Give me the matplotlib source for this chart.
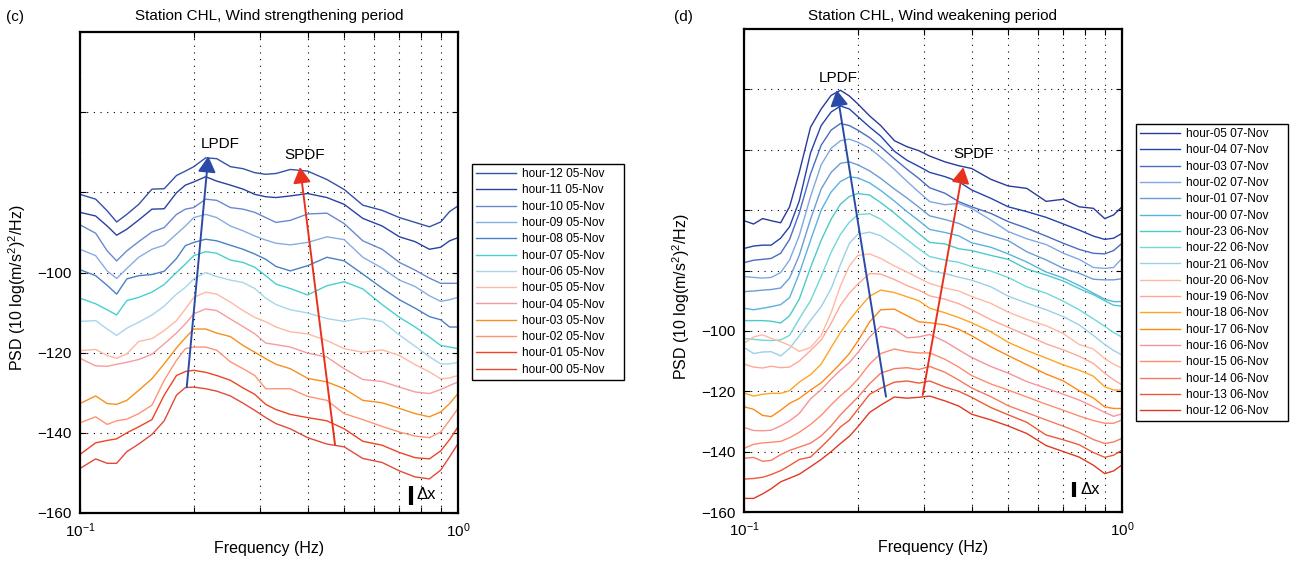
import matplotlib
matplotlib.use('Agg')
import matplotlib.pyplot as plt
from matplotlib.ticker import NullFormatter, FixedLocator

plt.rcParams['font.family'] = ['Liberation Sans', 'DejaVu Sans']
plt.rcParams['mathtext.fontset'] = 'custom'
plt.rcParams['mathtext.rm'] = 'Liberation Sans'
plt.rcParams['mathtext.it'] = 'Liberation Sans:italic'
plt.rcParams['mathtext.bf'] = 'Liberation Sans:bold'

# ---- panel (c): wind strengthening, PSD in dB at these frequencies (Hz)
freq_c = [0.100, 0.110, 0.118, 0.125, 0.133, 0.143, 0.155, 0.167, 0.180, 0.190,
          0.200, 0.215, 0.230, 0.250, 0.270, 0.290, 0.310, 0.330, 0.360, 0.400,
          0.450, 0.500, 0.560, 0.630, 0.700, 0.770, 0.840, 0.900, 0.950, 1.000]

psd_c12 = [-80.5, -81.7, -84.6, -87.4, -85.5, -83.0, -79.2, -79.1, -75.8, -74.7,
           -73.6, -71.4, -71.6, -73.6, -74.1, -75.1, -75.5, -75.3, -74.3, -74.7,
           -76.8, -79.3, -83.2, -84.5, -86.3, -87.5, -88.6, -87.4, -84.8, -83.4]
psd_c11 = [-85.0, -85.9, -88.4, -90.7, -89.2, -86.9, -84.2, -84.1, -80.1, -78.2,
           -77.4, -76.1, -77.2, -78.2, -79.2, -80.5, -81.1, -81.3, -80.9, -80.3,
           -81.3, -83.0, -86.5, -88.4, -91.1, -92.3, -94.2, -93.7, -92.1, -91.3]
psd_c10 = [-88.1, -90.2, -94.6, -97.1, -94.6, -92.3, -89.9, -88.8, -85.5, -84.2,
           -83.8, -81.7, -82.0, -83.8, -84.2, -85.0, -86.3, -87.5, -87.0, -85.4,
           -85.2, -87.8, -92.1, -94.2, -97.5, -99.4, -101.4, -102.7, -102.7, -102.7]
psd_c09 = [-94.2, -95.8, -99.6, -101.5, -99.0, -96.2, -94.2, -93.2, -90.4, -88.4,
           -86.3, -85.5, -86.3, -88.4, -89.6, -90.9, -91.9, -92.7, -93.1, -92.5,
           -91.1, -91.8, -96.2, -98.9, -101.9, -103.5, -105.8, -107.2, -106.8, -106.2]
psd_c08 = [-99.3, -100.8, -103.2, -105.4, -101.6, -100.8, -100.5, -99.7, -96.5, -93.3,
           -92.5, -91.7, -92.1, -93.2, -94.2, -95.4, -96.7, -98.5, -99.6, -98.3,
           -96.2, -97.1, -100.4, -103.9, -106.8, -108.9, -111.0, -111.8, -113.6, -113.6]
psd_c07 = [-106.4, -107.8, -109.3, -110.6, -107.0, -106.2, -104.9, -103.0, -100.0, -97.9,
           -95.8, -94.8, -95.2, -96.9, -97.5, -98.7, -100.8, -102.9, -104.0, -105.6,
           -103.3, -102.3, -104.1, -108.0, -111.2, -113.6, -116.1, -118.2, -118.6, -119.0]
psd_c06 = [-112.2, -112.0, -114.1, -115.7, -113.9, -112.4, -110.6, -108.4, -105.4, -103.7,
           -101.6, -100.0, -101.0, -101.9, -102.5, -104.0, -106.4, -108.0, -109.3, -110.1,
           -111.5, -112.2, -111.4, -112.2, -115.6, -118.4, -121.0, -122.8, -122.8, -122.4]
psd_c05 = [-119.5, -119.2, -120.7, -121.4, -120.3, -117.2, -116.5, -114.5, -112.0, -109.1,
           -106.2, -104.9, -105.4, -107.4, -109.5, -111.2, -112.3, -113.6, -114.8, -115.3,
           -117.0, -119.0, -119.9, -119.3, -120.7, -123.0, -124.8, -126.5, -126.3, -125.7]
psd_c04 = [-121.4, -123.3, -123.4, -122.9, -122.4, -121.7, -120.4, -117.8, -115.1, -112.8,
           -110.3, -109.1, -109.5, -111.6, -113.5, -115.3, -117.6, -118.0, -118.6, -120.1,
           -121.1, -124.0, -126.7, -127.2, -128.6, -129.8, -130.2, -129.2, -128.2, -127.3]
psd_c03 = [-132.7, -130.8, -132.7, -132.9, -131.9, -129.4, -126.5, -122.8, -118.8, -116.3,
           -114.1, -114.1, -115.1, -116.0, -118.2, -119.9, -121.5, -122.9, -124.0, -126.4,
           -127.3, -129.0, -131.9, -132.5, -133.9, -135.2, -136.0, -134.8, -132.7, -130.2]
psd_c02 = [-137.5, -136.0, -137.9, -137.0, -136.6, -135.2, -133.1, -126.9, -121.9, -119.0,
           -118.6, -118.6, -119.4, -122.3, -124.0, -125.7, -129.0, -129.0, -129.0, -130.9,
           -131.9, -135.2, -136.7, -138.4, -139.8, -140.8, -141.2, -139.8, -136.9, -133.9]
psd_c01 = [-145.4, -142.5, -141.9, -141.5, -140.0, -138.5, -136.7, -130.6, -125.7, -124.7,
           -124.4, -124.9, -125.7, -126.9, -128.8, -130.4, -132.9, -134.2, -135.4, -136.2,
           -137.0, -139.0, -142.1, -143.1, -144.9, -146.2, -146.5, -144.5, -141.7, -138.5]
psd_c00 = [-148.9, -146.5, -147.6, -147.6, -144.7, -142.8, -140.4, -137.0, -130.6, -128.7,
           -128.6, -129.0, -129.6, -130.8, -132.6, -134.4, -136.2, -137.7, -139.0, -141.2,
           -142.8, -143.5, -146.4, -147.4, -149.5, -151.0, -151.5, -149.3, -146.0, -142.7]

labels_c = ['hour-12 05-Nov', 'hour-11 05-Nov', 'hour-10 05-Nov', 'hour-09 05-Nov',
            'hour-08 05-Nov', 'hour-07 05-Nov', 'hour-06 05-Nov', 'hour-05 05-Nov',
            'hour-04 05-Nov', 'hour-03 05-Nov', 'hour-02 05-Nov', 'hour-01 05-Nov',
            'hour-00 05-Nov']

# peak-frequency arrows (tail, head) and label spots, as (Hz, dB)
lpdf_c = [(0.1916, -128.6), (0.2185, -71.0)]
spdf_c = [(0.4727, -142.9), (0.382, -73.7)]
lpdf_text_c = (0.2356, -68.0)
spdf_text_c = (0.3937, -70.7)

# ---- panel (d): wind weakening
freq_d = [0.100, 0.106, 0.112, 0.118, 0.125, 0.132, 0.140, 0.150, 0.160, 0.170,
          0.180, 0.190, 0.200, 0.215, 0.230, 0.250, 0.270, 0.290, 0.310, 0.340,
          0.370, 0.400, 0.450, 0.500, 0.560, 0.630, 0.700, 0.770, 0.840, 0.900,
          0.950, 1.000]

psd_d05 = [-63.5, -64.6, -62.8, -63.5, -64.2, -58.9, -47.5, -32.5, -26.5, -22.0,
           -20.3, -22.2, -24.8, -28.8, -32.0, -37.0, -39.0, -40.3, -42.1, -44.0,
           -45.3, -46.2, -49.8, -52.0, -52.8, -57.1, -56.4, -58.9, -59.4, -62.8,
           -61.6, -58.9]
psd_d04 = [-72.7, -71.9, -71.6, -71.6, -69.3, -65.5, -57.0, -41.0, -32.0, -27.5,
           -25.5, -26.5, -29.0, -32.5, -35.5, -40.5, -43.5, -45.5, -47.5, -48.9,
           -50.6, -53.3, -56.1, -58.9, -60.5, -62.4, -64.6, -66.6, -68.6, -69.7,
           -69.3, -67.7]
psd_d03 = [-77.4, -76.6, -76.3, -76.0, -74.3, -69.7, -61.0, -48.0, -38.5, -33.5,
           -31.3, -32.0, -33.5, -36.0, -39.0, -43.0, -46.5, -49.5, -52.6, -54.4,
           -57.2, -58.9, -61.1, -63.8, -66.0, -68.6, -71.0, -73.0, -74.3, -74.5,
           -73.4, -71.0]
psd_d02 = [-82.0, -82.3, -82.5, -82.3, -80.7, -76.5, -68.5, -55.5, -45.0, -39.5,
           -37.0, -36.5, -37.5, -39.5, -42.5, -46.5, -50.5, -54.0, -57.2, -58.2,
           -57.8, -59.4, -63.3, -67.1, -69.5, -71.4, -74.3, -76.3, -79.0, -79.3,
           -79.0, -76.0]
psd_d01 = [-87.0, -86.8, -86.5, -86.3, -85.8, -82.5, -75.0, -63.0, -53.0, -47.5,
           -44.5, -44.0, -45.0, -47.0, -49.5, -53.0, -56.0, -59.0, -61.9, -63.1,
           -64.4, -66.4, -68.4, -70.1, -73.8, -76.5, -79.3, -80.9, -82.9, -83.1,
           -83.1, -82.7]
psd_d00 = [-92.5, -93.0, -92.5, -92.0, -91.3, -89.0, -81.0, -70.0, -60.0, -54.0,
           -50.5, -49.0, -49.3, -51.0, -53.5, -57.0, -60.5, -63.5, -66.4, -67.4,
           -68.5, -70.8, -72.3, -74.5, -77.2, -80.5, -82.5, -85.0, -87.5, -89.5,
           -90.3, -90.3]
psd_d23 = [-96.6, -96.6, -96.6, -96.8, -97.4, -95.0, -89.5, -79.0, -70.0, -63.0,
           -58.0, -55.5, -54.5, -55.0, -57.5, -61.0, -64.5, -67.8, -70.7, -71.2,
           -72.8, -73.4, -75.0, -76.3, -79.5, -81.5, -83.5, -86.0, -88.0, -90.0,
           -91.5, -91.8]
psd_d22 = [-102.5, -102.8, -103.1, -103.2, -103.0, -101.5, -96.0, -90.0, -82.0, -74.0,
           -68.0, -64.0, -61.5, -61.2, -63.0, -66.5, -69.8, -72.8, -75.4, -76.5,
           -77.3, -78.7, -80.2, -82.3, -85.4, -87.5, -90.2, -93.0, -96.0, -98.5,
           -100.5, -102.1]
psd_d21 = [-105.5, -107.5, -107.0, -106.9, -108.3, -105.8, -101.7, -96.5, -92.0, -86.0,
           -78.0, -71.0, -68.0, -67.3, -68.5, -71.5, -74.5, -77.5, -80.1, -81.0,
           -82.2, -83.2, -85.4, -88.5, -90.8, -93.0, -95.3, -98.0, -101.5, -104.5,
           -106.5, -108.0]
psd_d20 = [-104.1, -102.0, -101.3, -102.5, -103.6, -104.8, -106.8, -105.5, -101.5, -94.0,
           -85.0, -78.5, -75.0, -74.5, -76.0, -78.5, -80.5, -82.5, -84.3, -85.8,
           -86.8, -88.6, -90.9, -93.8, -96.2, -98.3, -100.9, -104.5, -106.0, -109.2,
           -111.0, -112.4]
psd_d19 = [-111.0, -112.0, -112.3, -111.7, -112.2, -112.0, -110.0, -106.5, -103.0, -97.5,
           -91.5, -87.5, -84.5, -81.0, -81.2, -83.0, -85.0, -86.5, -88.4, -89.5,
           -91.0, -93.0, -96.3, -98.8, -101.5, -104.3, -106.3, -108.4, -110.8, -114.0,
           -116.2, -117.9]
psd_d18 = [-120.6, -121.6, -121.0, -120.7, -120.7, -119.8, -117.0, -114.5, -111.0, -105.5,
           -100.5, -96.5, -93.0, -88.5, -86.5, -87.3, -88.7, -90.0, -92.5, -94.0,
           -95.6, -97.3, -100.3, -103.8, -106.5, -109.0, -111.3, -113.0, -115.0, -118.5,
           -119.6, -119.6]
psd_d17 = [-125.1, -126.0, -128.0, -128.4, -126.3, -124.0, -122.4, -119.6, -117.2, -114.0,
           -110.8, -107.5, -103.4, -97.0, -93.0, -92.8, -95.0, -97.0, -97.3, -98.0,
           -99.5, -101.6, -105.3, -108.2, -111.2, -114.3, -116.6, -119.8, -122.2, -125.2,
           -125.7, -125.7]
psd_d16 = [-132.0, -133.0, -133.1, -132.9, -131.5, -129.8, -127.4, -122.5, -119.5, -116.0,
           -113.0, -110.5, -107.2, -102.0, -98.5, -99.5, -102.3, -102.0, -101.2, -103.5,
           -106.3, -108.8, -111.8, -114.0, -116.8, -119.0, -121.0, -122.9, -125.1, -127.0,
           -128.3, -127.5]
psd_d15 = [-138.9, -137.6, -137.1, -136.9, -136.6, -135.4, -133.6, -131.0, -128.0, -124.5,
           -121.5, -119.0, -116.0, -111.0, -107.5, -106.0, -106.9, -107.3, -107.3, -109.4,
           -112.0, -114.8, -117.6, -119.6, -121.9, -124.3, -126.3, -128.2, -129.7, -130.6,
           -130.6, -129.5]
psd_d14 = [-142.2, -141.9, -143.2, -142.9, -141.0, -139.6, -138.5, -137.2, -134.8, -131.5,
           -127.8, -124.8, -122.0, -117.5, -114.0, -112.5, -112.2, -112.8, -111.8, -113.7,
           -116.3, -118.9, -121.8, -124.8, -127.1, -129.5, -131.6, -133.6, -136.0, -137.3,
           -136.8, -135.6]
psd_d13 = [-149.1, -148.9, -148.5, -147.6, -146.3, -144.6, -142.6, -141.8, -138.5, -135.2,
           -131.8, -129.6, -126.0, -121.0, -119.0, -117.0, -116.6, -117.3, -116.6, -118.6,
           -120.0, -122.0, -125.4, -127.8, -130.3, -134.5, -136.1, -137.7, -140.3, -141.9,
           -141.2, -139.5]
psd_d12 = [-155.5, -155.5, -154.0, -152.3, -150.0, -148.8, -147.5, -145.0, -142.6, -140.0,
           -137.3, -134.9, -131.8, -127.0, -124.6, -121.9, -122.3, -122.0, -121.6, -123.2,
           -124.9, -127.6, -129.5, -131.5, -134.0, -138.0, -140.0, -141.8, -144.5, -147.3,
           -146.4, -144.4]

labels_d = ['hour-05 07-Nov', 'hour-04 07-Nov', 'hour-03 07-Nov', 'hour-02 07-Nov',
            'hour-01 07-Nov', 'hour-00 07-Nov', 'hour-23 06-Nov', 'hour-22 06-Nov',
            'hour-21 06-Nov', 'hour-20 06-Nov', 'hour-19 06-Nov', 'hour-18 06-Nov',
            'hour-17 06-Nov', 'hour-16 06-Nov', 'hour-15 06-Nov', 'hour-14 06-Nov',
            'hour-13 06-Nov', 'hour-12 06-Nov']

lpdf_d = [(0.2375, -121.8), (0.1759, -20.2)]
spdf_d = [(0.297, -121.2), (0.3804, -45.8)]
lpdf_text_d = (0.1778, -16.3)
spdf_text_d = (0.4058, -41.4)

# line colours, top curve first
colors_c = ['#3550a8', '#2a41a0', '#6a88d0', '#86aee2', '#4a80c8', '#48d0d0', '#a6d6ec',
            '#ffb8a2', '#f79c9c', '#f7901e', '#ff9474', '#ee4422', '#e24a3a']
colors_d = ['#2a3a9c', '#2444aa', '#4a6cc2', '#80a8e2', '#6c9cd4', '#5ab2e2', '#4ccac8',
            '#70d8d8', '#9ad0e8', '#ffb9a2', '#ffa898', '#ffa424', '#ff8a14', '#f79499',
            '#ff8c70', '#f77a60', '#ee5a38', '#e03a22']

curves_c = [psd_c12, psd_c11, psd_c10, psd_c09, psd_c08, psd_c07, psd_c06,
            psd_c05, psd_c04, psd_c03, psd_c02, psd_c01, psd_c00]
curves_d = [psd_d05, psd_d04, psd_d03, psd_d02, psd_d01, psd_d00, psd_d23, psd_d22,
            psd_d21, psd_d20, psd_d19, psd_d18, psd_d17, psd_d16, psd_d15, psd_d14,
            psd_d13, psd_d12]

W, H = 1295, 565
fig = plt.figure(figsize=(W / 100, H / 100), dpi=100)


def draw_panel(rect, freq, curves, labels, colors, ylim, lpdf, spdf, lpdf_txt, spdf_txt,
               dx_bar, dx_text, title, letter, legend_box, title_pad, ylab_y):
    ax = fig.add_axes(rect)
    for vals, lab, col in zip(curves, labels, colors):
        ax.plot(freq, vals, color=col, lw=1.0, label=lab)
    ax.set_xscale('log')
    ax.set_xlim(0.1, 1.0)
    ax.set_ylim(*ylim)

    # MATLAB-like ticks and dotted grid
    ax.xaxis.set_major_locator(FixedLocator([0.1, 1.0]))
    ax.xaxis.set_minor_locator(FixedLocator([0.2, 0.3, 0.4, 0.5, 0.6, 0.7, 0.8, 0.9]))
    ax.xaxis.set_minor_formatter(NullFormatter())
    ax.set_xticklabels([r'$10^{-1}$', r'$10^{0}$'])
    yt = list(range(-160, int(ylim[1]), 20))
    ax.set_yticks(yt)
    ax.set_yticklabels([('\u2212%d' % -v) if v <= -100 else '' for v in yt])
    ax.tick_params(which='both', direction='in', top=True, right=True, length=4,
                   width=0.8, labelsize=11, pad=6)
    ax.grid(True, which='both', axis='x', color='k', lw=0.8, ls=(0, (1, 5)))
    ax.grid(True, which='major', axis='y', color='k', lw=0.8, ls=(0, (1, 5)))
    for s in ax.spines.values():
        s.set_linewidth(1.6)

    # LPDF / SPDF arrows
    for (tail, head), col in [(lpdf, '#2a4aa8'), (spdf, '#e8321e')]:
        ax.annotate('', xy=head, xytext=tail,
                    arrowprops=dict(arrowstyle='-|>,head_length=0.8,head_width=0.45',
                                    color=col, lw=1.4, mutation_scale=12,
                                    shrinkA=0, shrinkB=0))
    ax.text(lpdf_txt[0], lpdf_txt[1], 'LPDF', fontsize=11, ha='center', va='center')
    ax.text(spdf_txt[0], spdf_txt[1], 'SPDF', fontsize=11, ha='center', va='center')

    # delta-x scale mark
    ax.plot([dx_bar[0], dx_bar[0]], [dx_bar[1], dx_bar[2]], color='k', lw=3,
            solid_capstyle='butt')
    ax.text(dx_text[0], dx_text[1], '\u0394x', fontsize=12, ha='center', va='center')

    ax.set_title(title, fontsize=11, pad=title_pad)
    ax.set_xlabel('Frequency (Hz)', fontsize=11.5)
    ax.xaxis.set_label_coords(0.5, -0.058)
    ax.set_ylabel('PSD (10 log(m/s$^2$)$^2$/Hz)', fontsize=11.5)
    ax.yaxis.set_label_coords(-0.138, ylab_y)
    fig.text(letter[1] / W, 1 - letter[2] / H, letter[0], fontsize=11,
             ha='center', va='center')

    # legend box given in pixels: left, top, right, bottom
    lx0, ly0, lx1, ly1 = legend_box
    leg = ax.legend(loc='upper left',
                    bbox_to_anchor=(lx0 / W, 1 - ly1 / H, (lx1 - lx0) / W, (ly1 - ly0) / H),
                    bbox_transform=fig.transFigure, mode='expand', fontsize=8.6,
                    frameon=True, fancybox=False, edgecolor='k', framealpha=1,
                    borderpad=0.35, labelspacing=0.36, handlelength=3.35,
                    handletextpad=0.45, borderaxespad=0)
    leg.get_frame().set_linewidth(1.0)
    return ax


draw_panel([80 / W, 52 / H, 378 / W, 481 / H], freq_c, curves_c, labels_c, colors_c,
           (-160, -40), lpdf_c, spdf_c, lpdf_text_c, spdf_text_c,
           (0.75, -153.3, -158.0), (0.826, -155.5),
           'Station CHL, Wind strengthening period', ('(c)', 15, 17),
           (472, 164, 624, 380), 8.5, 0.468)

draw_panel([744 / W, 53 / H, 378 / W, 483 / H], freq_d, curves_d, labels_d, colors_d,
           (-160, 0), lpdf_d, spdf_d, lpdf_text_d, spdf_text_d,
           (0.7469, -150.0, -154.9), (0.8226, -152.4),
           'Station CHL, Wind weakening period', ('(d)', 683, 17),
           (1136, 124, 1288, 418), 6.5, 0.445)

fig.savefig('out.png', dpi=100)
